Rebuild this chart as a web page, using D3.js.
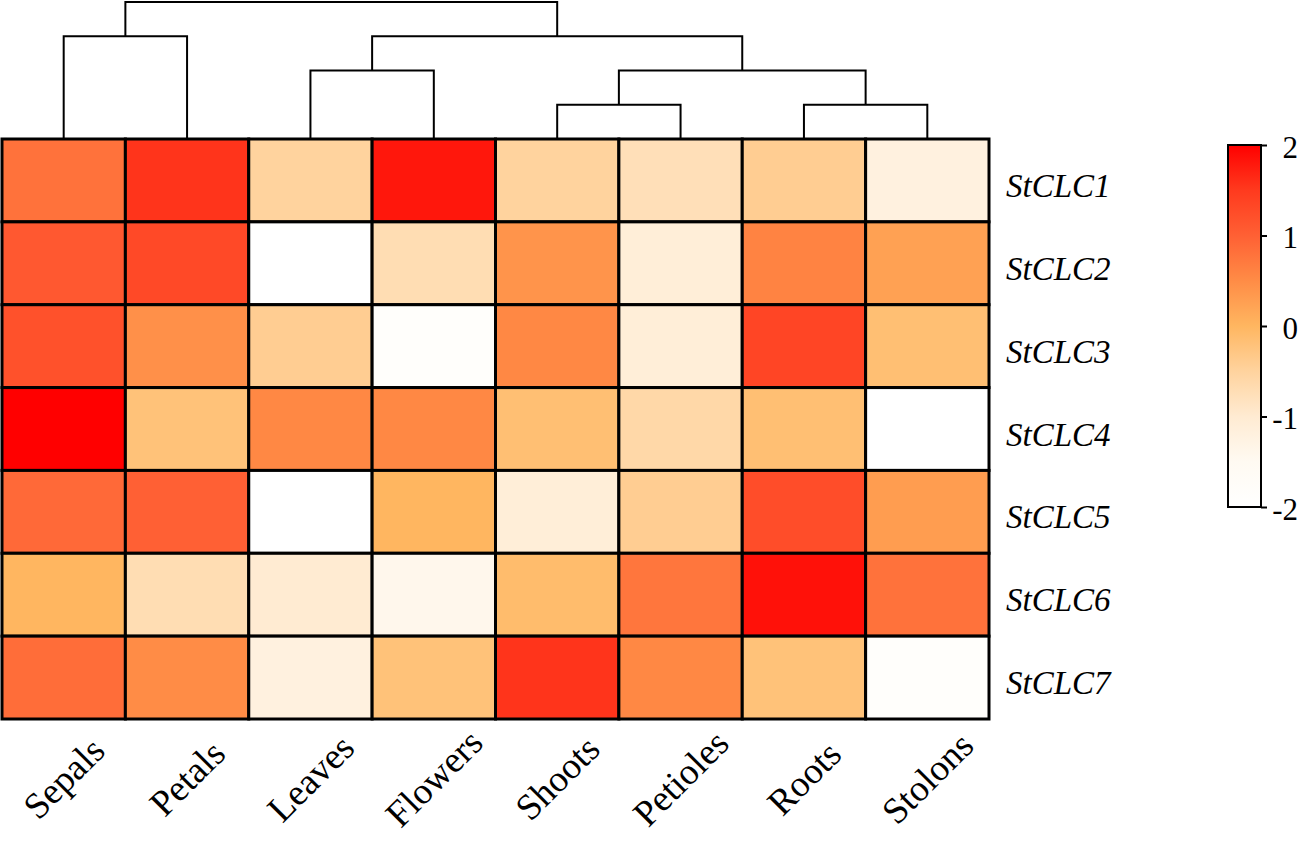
<!DOCTYPE html>
<html>
<head>
<meta charset="utf-8">
<script src="https://cdn.jsdelivr.net/npm/d3@7"></script>
<style>
  html, body { margin: 0; padding: 0; background: #fff; }
  svg { display: block; }
</style>
</head>
<body>
<svg id="chart" width="1299" height="841"></svg>
<script>
// ---- data ----
const tissues = ["Sepals", "Petals", "Leaves", "Flowers", "Shoots", "Petioles", "Roots", "Stolons"];
const genes = ["StCLC1", "StCLC2", "StCLC3", "StCLC4", "StCLC5", "StCLC6", "StCLC7"];
const StCLC1 = [0.8, 1.55, -0.5, 1.8, -0.5, -0.75, -0.4, -1.2];
const StCLC2 = [1.1, 1.3, -2.0, -0.7, 0.4, -1.1, 0.6, 0.25];
const StCLC3 = [1.2, 0.45, -0.4, -1.85, 0.55, -1.1, 1.35, -0.15];
const StCLC4 = [2.0, -0.2, 0.55, 0.55, -0.15, -0.6, -0.15, -2.0];
const StCLC5 = [0.9, 1.0, -2.0, 0.0, -1.1, -0.4, 1.25, 0.3];
const StCLC6 = [0.0, -0.7, -1.0, -1.4, -0.1, 0.75, 1.85, 0.8];
const StCLC7 = [0.85, 0.5, -1.2, -0.2, 1.55, 0.55, -0.2, -1.85];
const legendTicks = [-2, -1, 0, 1, 2];
const colorStops = [-2, -1.5, -1, -0.5, 0, 0.5, 1, 1.5, 2];
const colorRamp = ["#ffffff", "#fffaf2", "#ffebd2", "#ffd39e", "#ffb660", "#ff8c46", "#ff6034", "#ff3a1e", "#ff0000"];
// column dendrogram (merge heights)
const tissueTree = {h: 4, children: [
  {h: 3, children: ["Sepals", "Petals"]},
  {h: 3, children: [
    {h: 2, children: ["Leaves", "Flowers"]},
    {h: 2, children: [
      {h: 1, children: ["Shoots", "Petioles"]},
      {h: 1, children: ["Roots", "Stolons"]}
    ]}
  ]}
]};

const matrix = [StCLC1, StCLC2, StCLC3, StCLC4, StCLC5, StCLC6, StCLC7];
const cells = [];
genes.forEach((g, i) => tissues.forEach((t, j) => cells.push({gene: g, tissue: t, value: matrix[i][j]})));

const svg = d3.select("#chart");
const x = d3.scaleBand().domain(tissues).range([2, 989]);
const y = d3.scaleBand().domain(genes).range([139, 719]);
const color = d3.scaleLinear().domain(colorStops).range(colorRamp).clamp(true);
const serif = "'Liberation Serif', 'Times New Roman', serif";

// ---- heatmap ----
svg.append("g").selectAll("rect").data(cells).join("rect")
  .attr("x", d => x(d.tissue))
  .attr("y", d => y(d.gene))
  .attr("width", x.bandwidth())
  .attr("height", y.bandwidth())
  .attr("fill", d => color(d.value))
  .attr("stroke", "#000")
  .attr("stroke-width", 3);

// ---- dendrogram ----
const hY = d3.scaleLinear().domain([0, 4]).range([139, 2]);
const dg = svg.append("g").attr("fill", "none").attr("stroke", "#000").attr("stroke-width", 2);
function layout(node) {
  if (typeof node === "string") return {x: x(node) + x.bandwidth() / 2, h: 0};
  const kids = node.children.map(layout);
  const xs = kids.map(k => k.x);
  dg.append("path").attr("d",
    `M${xs[0]},${hY(kids[0].h)}V${hY(node.h)}H${xs[1]}V${hY(kids[1].h)}`);
  return {x: d3.mean(xs), h: node.h};
}
layout(tissueTree);

// ---- row labels ----
svg.append("g").selectAll("text").data(genes).join("text")
  .attr("x", 1006)
  .attr("y", d => y(d) + y.bandwidth() / 2)
  .attr("dy", "0.5em")
  .style("font-family", serif)
  .style("font-style", "italic")
  .style("font-size", "33px")
  .text(d => d);

// ---- column labels ----
svg.append("g").selectAll("text").data(tissues).join("text")
  .attr("transform", d => `translate(${x(d) + x.bandwidth() / 2 + 9},787) rotate(-45)`)
  .attr("text-anchor", "middle")
  .style("font-family", serif)
  .style("font-size", "37px")
  .text(d => d);

// ---- colour bar ----
const defs = svg.append("defs");
const grad = defs.append("linearGradient").attr("id", "cbar")
  .attr("x1", 0).attr("y1", 1).attr("x2", 0).attr("y2", 0);
grad.selectAll("stop").data(colorStops).join("stop")
  .attr("offset", d => (d + 2) / 4)
  .attr("stop-color", d => color(d));
const cb = d3.scaleLinear().domain([-2, 2]).range([507, 145]);
svg.append("rect")
  .attr("x", 1228).attr("y", 145).attr("width", 33).attr("height", 362)
  .attr("fill", "url(#cbar)").attr("stroke", "#000").attr("stroke-width", 2);
const ax = svg.append("g").attr("transform", "translate(1261,0)")
  .call(d3.axisRight(cb).tickValues(legendTicks).tickSize(6).tickPadding(31).tickFormat(d => String(d)));
ax.attr("font-family", null).attr("font-size", null);
ax.select(".domain").remove();
ax.selectAll("line").attr("stroke-width", 2);
ax.selectAll("text")
  .attr("text-anchor", "end")
  .attr("dy", "0.4em")
  .style("font-family", serif)
  .style("font-size", "31px")
  .attr("fill", "#000");
</script>
</body>
</html>
